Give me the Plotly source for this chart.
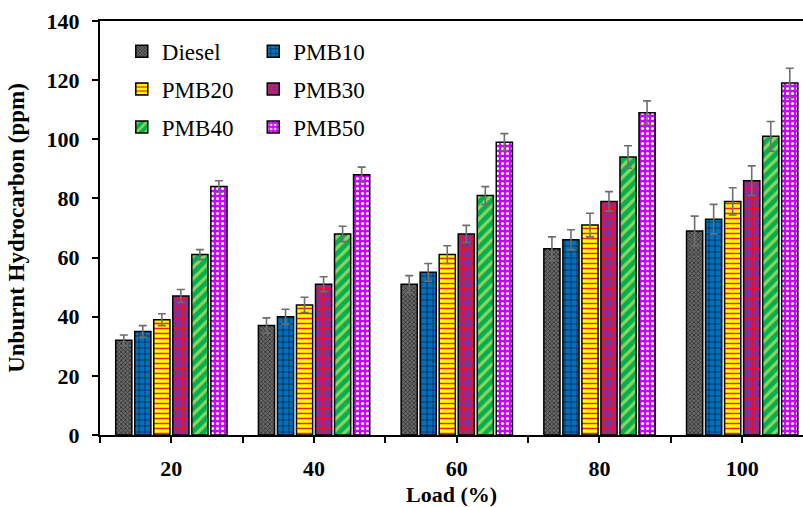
import plotly.graph_objects as go

# ---- data ----
loads = ["20", "40", "60", "80", "100"]
series_names = ["Diesel", "PMB10", "PMB20", "PMB30", "PMB40", "PMB50"]

diesel = [32, 37, 51, 63, 69]
pmb10 = [35, 40, 55, 66, 73]
pmb20 = [39, 44, 61, 71, 79]
pmb30 = [47, 51, 68, 79, 86]
pmb40 = [61, 68, 81, 94, 101]
pmb50 = [84, 88, 99, 109, 119]

err_diesel = [1.8, 2.6, 2.9, 4.0, 5.0]
err_pmb10 = [2.0, 2.5, 3.0, 3.4, 5.0]
err_pmb20 = [2.0, 2.6, 3.0, 4.0, 4.6]
err_pmb30 = [2.2, 2.5, 2.9, 3.3, 5.0]
err_pmb40 = [1.7, 2.6, 3.0, 3.8, 5.0]
err_pmb50 = [2.0, 2.6, 2.9, 4.0, 5.0]

y_ticks = [0, 20, 40, 60, 80, 100, 120, 140]

values = [diesel, pmb10, pmb20, pmb30, pmb40, pmb50]
errors = [err_diesel, err_pmb10, err_pmb20, err_pmb30, err_pmb40, err_pmb50]

# ---- styles ----
styles = [
    dict(bg="#6b6b6b", fg="#2a2a2a", shape="x", size=3, sol=0.45),
    dict(bg="#0070C0", fg="#101820", shape="+", size=6, sol=0.2),
    dict(bg="#FFFF00", fg="#FF1A1A", shape="-", size=5, sol=0.3),
    dict(bg="#8A2F8F", fg="#E8102E", shape="+", size=5, sol=0.35),
    dict(bg="#00B050", fg="#8ED45A", shape="/", size=8, sol=0.4),
    dict(bg="#CC00FF", fg="#FFFFFF", shape=".", size=5, sol=0.3),
]

xpos = list(range(len(loads)))

fig = go.Figure()
for i, (name, vals, errs, st) in enumerate(zip(series_names, values, errors, styles)):
    fig.add_trace(go.Bar(
        x=xpos, y=vals, name=name,
        legend="legend" if i % 2 == 0 else "legend2",
        legendgroup=name,
        marker=dict(
            color=st["bg"],
            line=dict(color="#000000", width=1.5),
            pattern=dict(shape=st["shape"], fgcolor=st["fg"], bgcolor=st["bg"],
                         size=st["size"], solidity=st["sol"], fillmode="replace"),
        ),
        error_y=dict(type="data", array=errs, visible=True,
                     color="#6e6e6e", thickness=1.6, width=4),
    ))

# tick positions: centers labelled, boundaries unlabelled
tickvals = []
ticktext = []
for i, lab in enumerate(loads):
    tickvals += [i - 0.5, i]
    ticktext += ["", lab]
tickvals.append(len(loads) - 0.5)
ticktext.append("")

font_family = "'Liberation Serif', 'Times New Roman', Times, serif"
legend_common = dict(
    font=dict(family=font_family, size=23, color="#000000"),
    bgcolor="rgba(0,0,0,0)", borderwidth=0,
    orientation="v", tracegroupgap=5,
    xanchor="left", yanchor="top", itemwidth=30,
)

fig.update_layout(
    width=803, height=507,
    margin=dict(l=100, r=0, t=21, b=72),
    paper_bgcolor="white", plot_bgcolor="white",
    barmode="group", bargap=0.2, bargroupgap=0.15,
    font=dict(family=font_family, color="#000000"),
    legend=dict(x=0.031, y=0.979, **legend_common),
    legend2=dict(x=0.218, y=0.979, **legend_common),
    xaxis=dict(
        range=[-0.5, 4.426],
        tickmode="array", tickvals=tickvals, ticktext=ticktext,
        ticks="outside", ticklen=6, tickwidth=2, tickcolor="#000000",
        showline=True, linecolor="#000000", linewidth=2, mirror=True,
        showgrid=False, zeroline=False,
        tickfont=dict(family=font_family, size=22, color="#000000", weight="bold"),
        ticklabelstandoff=7,
        title=dict(text="<b>Load (%)</b>", font=dict(family=font_family, size=22),
                   standoff=8),
    ),
    yaxis=dict(
        range=[0, 140], tickmode="array", tickvals=y_ticks,
        ticks="outside", ticklen=6, tickwidth=2, tickcolor="#000000",
        showline=True, linecolor="#000000", linewidth=2,
        showgrid=False, zeroline=False,
        tickfont=dict(family=font_family, size=22, color="#000000", weight="bold"),
        ticklabelstandoff=8,
        title=dict(text="<b>Unburnt Hydrocarbon (ppm)</b>",
                   font=dict(family=font_family, size=23), standoff=16),
    ),
    yaxis2=dict(
        overlaying="y", matches="y", anchor="x", side="left",
        range=[0, 140], tickmode="array", tickvals=y_ticks,
        ticks="inside", ticklen=5, tickwidth=2, tickcolor="#000000",
        showticklabels=False, showline=False, showgrid=False, zeroline=False,
    ),
)

fig.write_html("out.html")
